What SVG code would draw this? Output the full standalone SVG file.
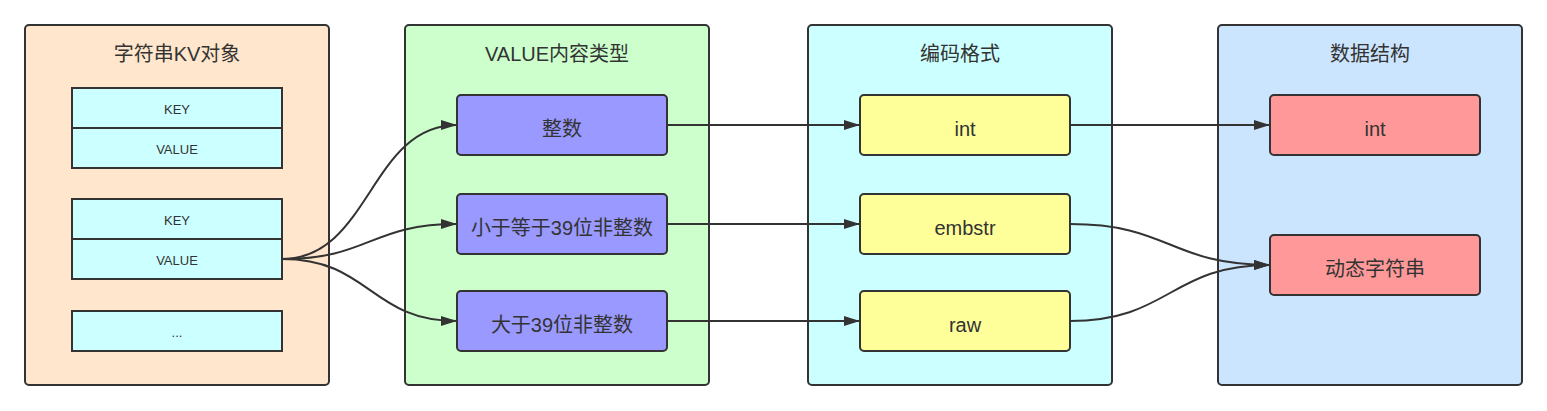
<svg xmlns="http://www.w3.org/2000/svg" width="1547" height="411" viewBox="0 0 1547 411">
<defs>
<style>
.c{stroke:#333;stroke-width:2}
.t{font-family:"Liberation Sans","Noto Sans CJK SC",sans-serif;fill:#333;text-anchor:middle;dominant-baseline:central}
.title{font-size:20px}
.n{font-size:20px}
.s{font-size:13px}
.e{fill:none;stroke:#333;stroke-width:2}
</style>
<marker id="a" viewBox="0 0 16 10" refX="16" refY="5" markerWidth="16" markerHeight="10" markerUnits="userSpaceOnUse" orient="auto">
<path d="M0,0 L16,5 L0,10 Z" fill="#333"/>
</marker>
</defs>
<rect width="1547" height="411" fill="#fff"/>
<g id="kv">
<rect class="c" x="25" y="25" width="304" height="360" rx="4" fill="#ffe6cc"/>
<text class="t title" x="177" y="54">字符串KV对象</text>
<rect class="c" x="72" y="88" width="210" height="40" fill="#ccffff"/>
<text class="t s" x="177" y="109.5">KEY</text>
<rect class="c" x="72" y="128" width="210" height="40" fill="#ccffff"/>
<text class="t s" x="177" y="149.5">VALUE</text>
<rect class="c" x="72" y="199" width="210" height="40" fill="#ccffff"/>
<text class="t s" x="177" y="220.5">KEY</text>
<rect class="c" x="72" y="239" width="210" height="40" fill="#ccffff"/>
<text class="t s" x="177" y="260.5">VALUE</text>
<rect class="c" x="72" y="311" width="210" height="40" fill="#ccffff"/>
<text class="t s" x="177" y="332.5">...</text>
</g>
<g id="valtype">
<rect class="c" x="405" y="25" width="304" height="360" rx="4" fill="#ccffcc"/>
<text class="t title" x="557" y="54">VALUE内容类型</text>
</g>
<g id="enc">
<rect class="c" x="808" y="25" width="304" height="360" rx="4" fill="#ccffff"/>
<text class="t title" x="960" y="54">编码格式</text>
</g>
<g id="ds">
<rect class="c" x="1218" y="25" width="304" height="360" rx="4" fill="#cce5ff"/>
<text class="t title" x="1370" y="54">数据结构</text>
</g>
<g id="v1"><rect class="c" x="457" y="95" width="210" height="60" rx="4" fill="#9999ff"/><text class="t n" x="562" y="128.5">整数</text></g>
<g id="v2"><rect class="c" x="457" y="194" width="210" height="60" rx="4" fill="#9999ff"/><text class="t n" x="562" y="227.5">小于等于39位非整数</text></g>
<g id="v3"><rect class="c" x="457" y="291" width="210" height="60" rx="4" fill="#9999ff"/><text class="t n" x="562" y="324.5">大于39位非整数</text></g>
<g id="e1"><rect class="c" x="860" y="95" width="210" height="60" rx="4" fill="#ffff99"/><text class="t n" x="965" y="128.5">int</text></g>
<g id="e2"><rect class="c" x="860" y="194" width="210" height="60" rx="4" fill="#ffff99"/><text class="t n" x="965" y="227.5">embstr</text></g>
<g id="e3"><rect class="c" x="860" y="291" width="210" height="60" rx="4" fill="#ffff99"/><text class="t n" x="965" y="324.5">raw</text></g>
<g id="d1"><rect class="c" x="1270" y="95" width="210" height="60" rx="4" fill="#ff9999"/><text class="t n" x="1375" y="128.5">int</text></g>
<g id="d2"><rect class="c" x="1270" y="235" width="210" height="60" rx="4" fill="#ff9999"/><text class="t n" x="1375" y="268.5">动态字符串</text></g>
<g id="connectors">
<path class="e" marker-end="url(#a)" d="M282,259 C370,259 370,125 457,125"/>
<path class="e" marker-end="url(#a)" d="M282,259 C370,259 370,224 457,224"/>
<path class="e" marker-end="url(#a)" d="M282,259 C370,259 370,321 457,321"/>
<path class="e" marker-end="url(#a)" d="M667,125 L860,125"/>
<path class="e" marker-end="url(#a)" d="M667,224 L860,224"/>
<path class="e" marker-end="url(#a)" d="M667,321 L860,321"/>
<path class="e" marker-end="url(#a)" d="M1070,125 L1270,125"/>
<path class="e" marker-end="url(#a)" d="M1070,224 C1170,224 1170,265 1270,265"/>
<path class="e" marker-end="url(#a)" d="M1070,321 C1170,321 1170,265 1270,265"/>
</g>
</svg>
